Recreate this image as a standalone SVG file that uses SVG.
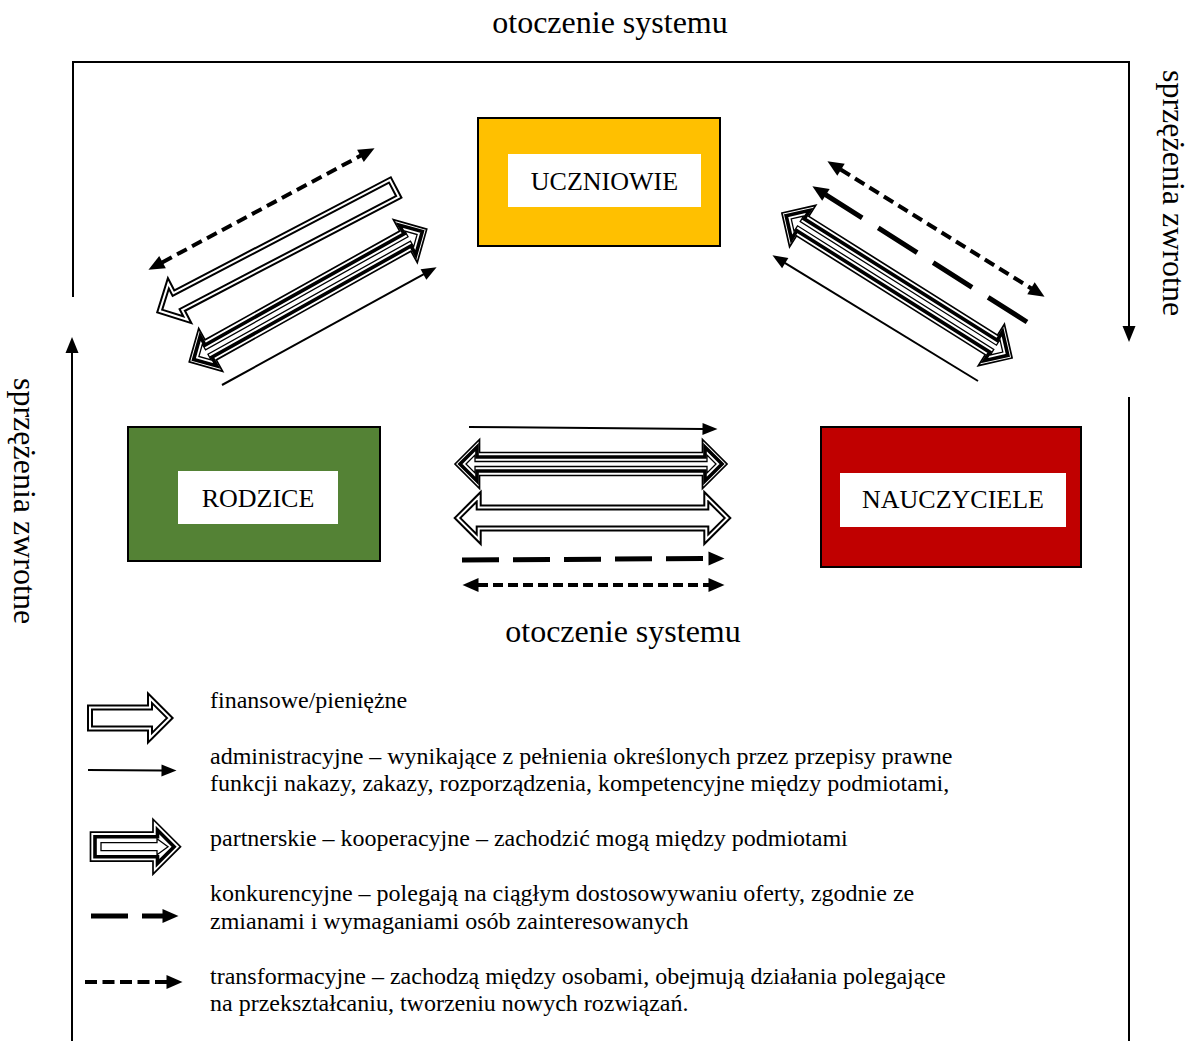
<svg xmlns="http://www.w3.org/2000/svg" xmlns:xlink="http://www.w3.org/1999/xlink" width="1192" height="1041" viewBox="0 0 1192 1041">
<style>
text{font-family:"Liberation Serif","Times New Roman",serif;fill:#000}
.big{font-size:32px}
.lbl{font-size:26px;text-anchor:middle}
.leg{font-size:24px}
.frame{stroke:#000;stroke-width:2;fill:none}
.box{stroke:#000;stroke-width:2}
.inner{fill:#fff;stroke:none}
.finB{fill:#fff;stroke:#000;stroke-width:6;stroke-linejoin:miter}
.finW{fill:none;stroke:#fff;stroke-width:2;stroke-linejoin:miter}
.p1{fill:#fff;stroke:#000;stroke-width:1.7}
.p2{fill:#fff;stroke:#000;stroke-width:3.6}
.p3{fill:#fff;stroke:#000;stroke-width:1.3}
.solid{stroke:#000;stroke-width:2;fill:none}
.ldash{stroke:#000;stroke-width:5;fill:none;stroke-dasharray:37 14}
.ldash2{stroke:#000;stroke-width:5;fill:none;stroke-dasharray:46 19}
.dot{stroke:#000;stroke-width:4;fill:none;stroke-dasharray:11 6}
.dot2{stroke:#000;stroke-width:4;fill:none;stroke-dasharray:10 5}
</style>
<defs>
<marker id="hd" markerUnits="userSpaceOnUse" markerWidth="16" markerHeight="14" refX="0.5" refY="7" orient="auto-start-reverse" overflow="visible">
<path d="M0,0 L16,7 L0,14 Z" fill="#000" stroke="none"/>
</marker>
<marker id="hs" markerUnits="userSpaceOnUse" markerWidth="15" markerHeight="12" refX="0.5" refY="6" orient="auto-start-reverse" overflow="visible">
<path d="M0,0 L15,6 L0,12 Z" fill="#000" stroke="none"/>
</marker>
<path id="finD" d="M-135,0 L-113.8,-21.2 L-113.8,-10.5 L113.8,-10.5 L113.8,-21.2 L135,0 L113.8,21.2 L113.8,10.5 L-113.8,10.5 L-113.8,21.2 Z"/>
<path id="finS" d="M-133,-9.5 L111.3,-9.5 L111.3,-20.5 L131.8,0 L111.3,20.5 L111.3,9.5 L-133,9.5 Z"/>
<g id="parD">
<path class="p1" d="M-136,0 L-111.5,-24.5 L-111.5,-11.5 L111.5,-11.5 L111.5,-24.5 L136,0 L111.5,24.5 L111.5,11.5 L-111.5,11.5 L-111.5,24.5 Z"/>
<path class="p2" d="M-131,0 L-114,-17 L-114,-7 L114,-7 L114,-17 L131,0 L114,17 L114,7 L-114,7 L-114,17 Z"/>
<path class="p3" d="M-125,0 L-116,-9 L-116,-2.5 L116,-2.5 L116,-9 L125,0 L116,9 L116,2.5 L-116,2.5 L-116,9 Z"/>
</g>
</defs>

<g id="frame">
<polyline class="frame" points="73,297 73,62 1129,62 1129,327"/>
<path d="M1122.5,326 L1129,342 L1135.5,326 Z" fill="#000"/>
<line class="frame" x1="1129" y1="397" x2="1129" y2="1041"/>
<line class="frame" x1="72" y1="1041" x2="72" y2="352"/>
<path d="M65.5,353 L72,337 L78.5,353 Z" fill="#000"/>
</g>

<g id="labels">
<text class="big" x="610" y="33" text-anchor="middle">otoczenie systemu</text>
<text class="big" x="623" y="642" text-anchor="middle">otoczenie systemu</text>
<text class="big" transform="translate(1163,70) rotate(90)">sprzężenia zwrotne</text>
<text class="big" transform="translate(14,378) rotate(90)">sprzężenia zwrotne</text>
</g>

<g id="uczniowie">
<rect class="box" x="478" y="118" width="242" height="128" fill="#FFC000"/>
<rect class="inner" x="508" y="154" width="193" height="53"/>
<text class="lbl" x="604.5" y="190">UCZNIOWIE</text>
</g>
<g id="rodzice">
<rect class="box" x="128" y="427" width="252" height="134" fill="#548235"/>
<rect class="inner" x="178" y="471" width="160" height="53"/>
<text class="lbl" x="258" y="507">RODZICE</text>
</g>
<g id="nauczyciele">
<rect class="box" x="821" y="427" width="260" height="140" fill="#C00000"/>
<rect class="inner" x="840" y="473" width="226" height="54"/>
<text class="lbl" x="953" y="508">NAUCZYCIELE</text>
</g>

<g id="connectors">
<!-- top-left cluster -->
<line class="dot" x1="162.1" y1="262.4" x2="360.9" y2="155.6" marker-start="url(#hd)" marker-end="url(#hd)"/>
<g transform="translate(276.5,250) rotate(152.4)">
<use xlink:href="#finS" class="finB"/><use xlink:href="#finS" class="finW"/>
</g>
<use xlink:href="#parD" transform="translate(308,295.5) rotate(-29.2)"/>
<line class="solid" x1="222" y1="385" x2="423.9" y2="274.2" marker-end="url(#hs)"/>
<!-- top-right cluster -->
<line class="dot" x1="840.6" y1="169.5" x2="1031.4" y2="288.5" marker-start="url(#hd)" marker-end="url(#hd)"/>
<line class="ldash2" x1="1027" y1="322" x2="825.5" y2="194.6" marker-end="url(#hd)"/>
<use xlink:href="#parD" transform="translate(897,285.5) rotate(32.2)"/>
<line class="solid" x1="978" y1="381" x2="784.8" y2="262.8" marker-end="url(#hs)"/>
<!-- middle cluster -->
<line class="solid" x1="469" y1="427" x2="703" y2="429" marker-end="url(#hs)"/>
<use xlink:href="#parD" transform="translate(591,464)"/>
<g transform="translate(592.5,518)">
<use xlink:href="#finD" class="finB"/><use xlink:href="#finD" class="finW"/>
</g>
<line class="ldash" x1="462" y1="560" x2="709" y2="558.5" marker-end="url(#hd)"/>
<line class="dot2" x1="478" y1="585" x2="709" y2="585" marker-start="url(#hd)" marker-end="url(#hd)"/>
</g>

<g id="legend">
<g transform="translate(0,718)">
<path class="finB" d="M90,-10.5 L150,-10.5 L150,-19.8 L169.8,0 L150,19.8 L150,10.5 L90,10.5 Z"/>
<path class="finW" d="M90,-10.5 L150,-10.5 L150,-19.8 L169.8,0 L150,19.8 L150,10.5 L90,10.5 Z"/>
</g>
<line class="solid" x1="88" y1="770" x2="162" y2="770.5" marker-end="url(#hs)"/>
<g transform="translate(0,846.7)">
<path class="p1" d="M90.5,-14.5 L153,-14.5 L153,-27.5 L180.5,0 L153,27.5 L153,14.5 L90.5,14.5 Z"/>
<path class="p2" d="M95,-10 L157.5,-10 L157.5,-16.6 L174.1,0 L157.5,16.6 L157.5,10 L95,10 Z"/>
<path class="p3" d="M101,-4 L157,-4 L157,-8 L168,0 L157,8 L157,4 L101,4 Z"/>
</g>
<line class="ldash" x1="91" y1="916" x2="163" y2="916" marker-end="url(#hd)"/>
<line class="dot" x1="85" y1="982" x2="167" y2="982" style="stroke-dasharray:12 5.5" marker-end="url(#hd)"/>
<text class="leg" x="210" y="708">finansowe/pieniężne</text>
<text class="leg" x="210" y="764">administracyjne – wynikające z pełnienia określonych przez przepisy prawne</text>
<text class="leg" x="210" y="791">funkcji nakazy, zakazy, rozporządzenia, kompetencyjne między podmiotami,</text>
<text class="leg" x="210" y="846">partnerskie – kooperacyjne – zachodzić mogą między podmiotami</text>
<text class="leg" x="210" y="901">konkurencyjne – polegają na ciągłym dostosowywaniu oferty, zgodnie ze</text>
<text class="leg" x="210" y="929">zmianami i wymaganiami osób zainteresowanych</text>
<text class="leg" x="210" y="984">transformacyjne – zachodzą między osobami, obejmują działania polegające</text>
<text class="leg" x="210" y="1011">na przekształcaniu, tworzeniu nowych rozwiązań.</text>
</g>
</svg>
